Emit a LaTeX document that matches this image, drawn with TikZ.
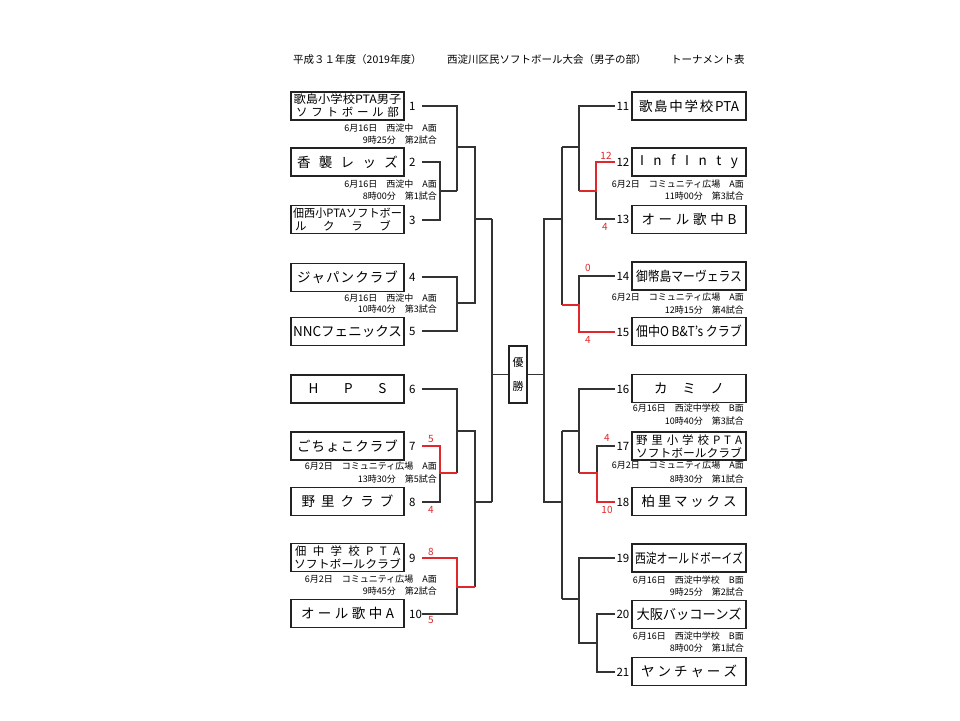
\documentclass[tikz,border=0pt]{standalone}
\usepackage{fontspec}
\setmainfont{Noto Sans CJK JP}
\usepackage{graphicx}
\definecolor{lc}{HTML}{333333}
\definecolor{bc}{HTML}{222222}
\definecolor{rc}{HTML}{E0282C}
\def\spreadchars#1{\spreadA#1\relax}
\def\spreadA#1{#1\spreadB}
\def\spreadB#1{\ifx\relax#1\else\hfill#1\expandafter\spreadB\fi}
\newcommand\myspread[2]{\makebox[#1][s]{\spreadchars{#2}}}
\newcommand\myfit[2]{\resizebox{#1}{\height}{#2}}
\tikzset{
 bl/.style={draw=lc, line width=1.2pt},
 rd/.style={draw=rc, line width=1.8pt},
 tbox/.style={draw=bc, line width=1.2pt, minimum height=28pt, inner sep=0pt, align=center, font=\fontsize{13.5}{14}\selectfont},
 ltb/.style={tbox, minimum width=113pt},
 rtb/.style={tbox, minimum width=114pt},
 two/.style={font=\fontsize{11.5}{13}\selectfont},
 num/.style={inner sep=0pt, font=\fontsize{11.5}{12}\selectfont},
 info/.style={inner sep=0pt, font=\fontsize{9}{10}\selectfont, anchor=east},
 score/.style={inner sep=0pt, text=rc, font=\fontsize{10}{11}\selectfont},
 ttl/.style={inner sep=0pt, anchor=west, font=\fontsize{10.5}{11}\selectfont},
}
\begin{document}
\begin{tikzpicture}[x=1pt,y=-1pt]
\fill[white] (0,0) rectangle (960,720);
\useasboundingbox (0,0) rectangle (960,720);

% title
\node[ttl] (title1) at (293,60) {平成３１年度（2019年度）};
\node[ttl] (title2) at (447,60) {西淀川区民ソフトボール大会（男子の部）};
\node[ttl] (title3) at (671,60) {トーナメント表};

% left boxes
\node[ltb,two] (b1) at (347.5,106) {\myfit{108pt}{歌島小学校PTA男子}\\\myspread{103pt}{ソフトボール部}};
\node[ltb] (b2) at (347.5,162) {\myspread{101pt}{香襲レッズ}};
\node[ltb,two] (b3) at (347.5,219.5) {\myfit{109pt}{佃西小PTAソフトボー}\\\makebox[109pt][l]{\hspace{2pt}\myspread{96pt}{ルクラブ}}};
\node[ltb] (b4) at (347.5,277.5) {\myspread{101pt}{ジャパンクラブ}};
\node[ltb] (b5) at (347.5,331.5) {\myfit{109pt}{NNCフェニックス}};
\node[ltb] (b6) at (347.5,389) {\myspread{78pt}{HPS}};
\node[ltb] (b7) at (347.5,446) {\myspread{101pt}{ごちょこクラブ}};
\node[ltb] (b8) at (347.5,501.5) {\myspread{92pt}{野里クラブ}};
\node[ltb,two] (b9) at (347.5,557.5) {\myspread{105pt}{佃中学校PTA}\\\myfit{107pt}{ソフトボールクラブ}};
\node[ltb] (b10) at (347.5,613.5) {\myspread{93pt}{オール歌中A}};

% right boxes
\node[rtb] (b11) at (689,106) {\makebox[100pt][s]{歌\hfill 島\hfill 中\hfill 学\hfill 校\hfill PTA}};
\node[rtb] (b12) at (689,162) {\myspread{98pt}{InfInty}};
\node[rtb] (b13) at (689,219.5) {\myspread{95pt}{オール歌中B}};
\node[rtb] (b14) at (689,276) {\myfit{106pt}{御幣島マーヴェラス}};
\node[rtb] (b15) at (689,331.5) {\myfit{106pt}{佃中O B\&T's クラブ}};
\node[rtb] (b16) at (689,388.5) {\myspread{70pt}{カミノ}};
\node[rtb,two] (b17) at (689,446) {\myspread{106pt}{野里小学校PTA}\\\myfit{106pt}{ソフトボールクラブ}};
\node[rtb] (b18) at (689,501.5) {\myspread{95pt}{柏里マックス}};
\node[rtb] (b19) at (689,558) {\myfit{108pt}{西淀オールドボーイズ}};
\node[rtb] (b20) at (689,614.5) {\myfit{105pt}{大阪バッコーンズ}};
\node[rtb] (b21) at (689,671.5) {\myspread{96pt}{ヤンチャーズ}};

% winner box
\node[draw=bc, line width=1.2pt, minimum width=18pt, minimum height=57pt, inner sep=0pt, align=center, font=\fontsize{11}{24}\selectfont] (win) at (518,374.5) {優\\勝};

% numbers
\foreach \n/\y in {1/106,2/162,3/220,4/277,5/331,6/389,7/446,8/502,9/558,10/614}
  \node[num, anchor=west] (n\n) at (409,\y) {\n};
\foreach \n/\y in {11/106,12/162,13/219,14/276,15/332,16/389,17/446,18/502,19/558,20/614,21/672}
  \node[num, anchor=east] (n\n) at (629.5,\y) {\n};

% info texts left
\node[info] (i1a) at (437,128) {6月16日\hspace{1em}西淀中\hspace{1em}A面};
\node[info] (i1b) at (437,140) {9時25分\hspace{1em}第2試合};
\node[info] (i2a) at (437,184) {6月16日\hspace{1em}西淀中\hspace{1em}A面};
\node[info] (i2b) at (437,196) {8時00分\hspace{1em}第1試合};
\node[info] (i4a) at (437,298) {6月16日\hspace{1em}西淀中\hspace{1em}A面};
\node[info] (i4b) at (437,309) {10時40分\hspace{1em}第3試合};
\node[info] (i7a) at (437,466) {6月2日\hspace{1em}コミュニティ広場\hspace{1em}A面};
\node[info] (i7b) at (437,479) {13時30分\hspace{1em}第5試合};
\node[info] (i9a) at (437,579) {6月2日\hspace{1em}コミュニティ広場\hspace{1em}A面};
\node[info] (i9b) at (437,591) {9時45分\hspace{1em}第2試合};
% info texts right
\node[info] (j12a) at (744,184) {6月2日\hspace{1em}コミュニティ広場\hspace{1em}A面};
\node[info] (j12b) at (744,196) {11時00分\hspace{1em}第3試合};
\node[info] (j14a) at (744,297) {6月2日\hspace{1em}コミュニティ広場\hspace{1em}A面};
\node[info] (j14b) at (744,310) {12時15分\hspace{1em}第4試合};
\node[info] (j16a) at (744,408) {6月16日\hspace{1em}西淀中学校\hspace{1em}B面};
\node[info] (j16b) at (744,421) {10時40分\hspace{1em}第3試合};
\node[info] (j17a) at (744,465) {6月2日\hspace{1em}コミュニティ広場\hspace{1em}A面};
\node[info] (j17b) at (744,479) {8時30分\hspace{1em}第1試合};
\node[info] (j19a) at (744,580) {6月16日\hspace{1em}西淀中学校\hspace{1em}B面};
\node[info] (j19b) at (744,592) {9時25分\hspace{1em}第2試合};
\node[info] (j20a) at (744,636) {6月16日\hspace{1em}西淀中学校\hspace{1em}B面};
\node[info] (j20b) at (744,648) {8時00分\hspace{1em}第1試合};

% scores
\node[score] (sc7) at (431,439) {5};
\node[score] (sc8) at (431,510) {4};
\node[score] (sc9) at (431,552) {8};
\node[score] (sc10) at (431,620) {5};
\node[score] (sc12) at (606,156) {12};
\node[score] (sc13) at (605,227) {4};
\node[score] (sc14) at (588,268) {0};
\node[score] (sc15) at (588,340) {4};
\node[score] (sc17) at (607,438) {4};
\node[score] (sc18) at (607,510) {10};

% coordinates left
\foreach \n/\y in {1/106,2/162,3/220,4/277,5/331,6/389,7/446,8/502,9/558,10/614}
  \coordinate (s\n) at (422,\y);
\coordinate (m23) at (440,191);
\coordinate (q1) at (457,191);
\coordinate (r1a) at (457,147);
\coordinate (r2a) at (457,303);
\coordinate (f1) at (475,219);
\coordinate (g1) at (492,219);
\coordinate (m78) at (440,473);
\coordinate (r3b) at (457,473);
\coordinate (r3a) at (457,431);
\coordinate (r4a) at (457,587);
\coordinate (r4b) at (475,587);
\coordinate (f2) at (475,502);
\coordinate (g2) at (492,502);
% coordinates right
\foreach \n/\y in {11/106,12/162,13/219,14/276,15/332,16/389,17/446,18/502,19/558,20/614,21/672}
  \coordinate (e\n) at (615,\y);
\coordinate (h1) at (544,219);
\coordinate (h2) at (544,502);
\coordinate (k1) at (562,219);
\coordinate (k2) at (562,502);
\coordinate (u1) at (562,147);
\coordinate (u2) at (562,305);
\coordinate (v1) at (579,147);
\coordinate (w2) at (579,305);
\coordinate (x1) at (579,191);
\coordinate (x1b) at (596,191);
\coordinate (u3) at (562,431);
\coordinate (u4) at (562,599);
\coordinate (v3) at (579,431);
\coordinate (v4) at (579,599);
\coordinate (x3) at (579,473);
\coordinate (x3b) at (597,473);
\coordinate (x4) at (579,643);
\coordinate (x4b) at (597,643);

% black connectors left
\draw[bl] (s1) -| (q1);
\draw[bl] (s2) -| (m23) -- (q1);
\draw[bl] (s3) -| (m23);
\draw[bl] (s4) -| (r2a);
\draw[bl] (s5) -| (r2a);
\draw[bl] (r1a) -| (f1) -- (g1);
\draw[bl] (r2a) -| (f1);
\draw[bl] (g1) |- (win.west);
\draw[bl] (g2) |- (win.west);
\draw[bl] (s6) -| (r3b);
\draw[bl] (s8) -| (m78);
\draw[bl] (s10) -| (r4a);
\draw[bl] (r3a) -| (f2) -- (g2);
\draw[bl] (r4b) -- (f2);
% black connectors right
\draw[bl] (win.east) -| (h1) -- (k1);
\draw[bl] (win.east) -| (h2) -- (k2);
\draw[bl] (u1) -- (u2);
\draw[bl] (u1) -- (v1);
\draw[bl] (e11) -| (x1);
\draw[bl] (e13) -| (x1b);
\draw[bl] (e14) -| (w2);
\draw[bl] (u3) -- (u4);
\draw[bl] (u3) -- (v3);
\draw[bl] (u4) -- (v4);
\draw[bl] (e16) -| (x3);
\draw[bl] (e17) -| (x3b);
\draw[bl] (e19) -| (x4) -- (x4b);
\draw[bl] (e20) -| (x4b);
\draw[bl] (e21) -| (x4b);
% red connectors
\draw[rd] (s7) -| (m78) -- (r3b);
\draw[rd] (s9) -| (r4a) -- (r4b);
\draw[rd] (x1) -- (x1b) |- (e12);
\draw[rd] (u2) -- (w2) |- (e15);
\draw[rd] (x3) -- (x3b) |- (e18);
\end{tikzpicture}
\end{document}
